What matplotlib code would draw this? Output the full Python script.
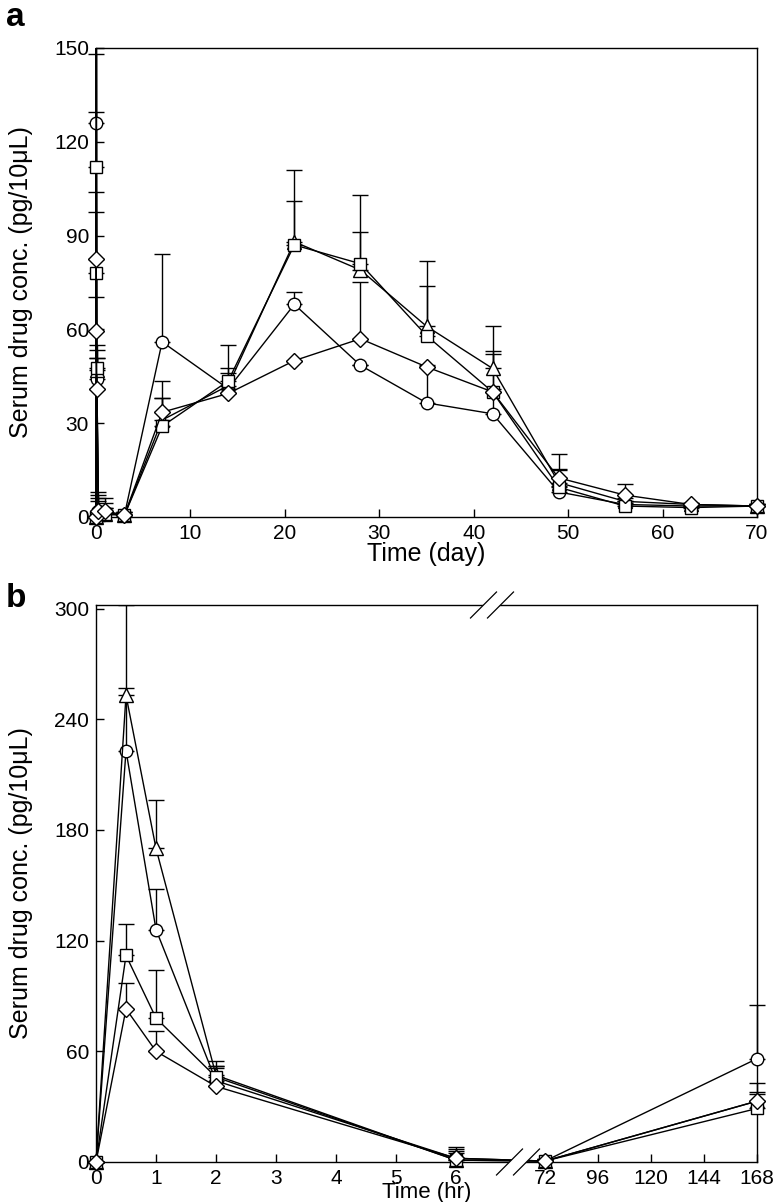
"""
Serum drug concentration time courses: (a) by day over 70 days,
(b) by hour over the first week, with a broken x axis.
Writes ./out.png
"""

import matplotlib

matplotlib.use("Agg")
import matplotlib.pyplot as plt
import numpy as np
from matplotlib.lines import Line2D
from matplotlib.patches import Polygon, Rectangle

plt.rcParams["font.family"] = ["Liberation Sans", "DejaVu Sans"]

# ---- panel a: time in days (first points are 0, 0.5, 1, 2, 6 h) ----
DAYS = [0, 0.5 / 24, 1 / 24, 2 / 24, 6 / 24, 1, 3, 7, 14, 21, 28, 35, 42, 49, 56, 63, 70]
A_CIRCLE = [0, 223, 126, 44, 2, 1.5, 0.5, 56, 41, 68, 48.5, 36.5, 33, 8, 4, 3.5, 3.5]
A_CIRCLE_ERR = [0, 34, 22, 7, 5, 3, 0.5, 28, 6.5, 4, 0, 12, 8, 2, 1, 0.5, 0.5]
A_TRIANGLE = [0, 253, 170, 47, 1, 1, 0.5, 31, 42, 88, 79, 61, 47.5, 11, 5, 4, 3.5]
A_TRIANGLE_ERR = [0, 49, 26, 8, 5, 2, 1, 12.5, 13, 23, 12, 21, 13.5, 4, 1, 0.5, 0.5]
A_SQUARE = [0, 112, 78, 47.5, 1, 1, 0.5, 29, 43.5, 87, 81, 58, 40, 9.5, 3.5, 3, 3.5]
A_SQUARE_ERR = [0, 17.5, 26, 6, 4, 2, 1, 9, 2.5, 14, 22, 16, 13, 6, 1, 0.5, 0.5]
A_DIAMOND = [0, 82.5, 59.5, 41, 2, 2, 0.5, 33.5, 39.5, 50, 57, 48, 40, 12.5, 7, 4, 3.5]
A_DIAMOND_ERR = [0, 15, 11, 10, 6, 4, 1, 4.5, 0, 0, 18, 0, 12, 7.5, 3.5, 0.5, 0.5]

# ---- panel b: time in hours ----
HOURS = [0, 0.5, 1, 2, 6, 72, 168]
B_CIRCLE = [0, 223, 126, 44, 2, 0.5, 56]
B_CIRCLE_ERR = [0, 34, 22, 7, 5, 0.5, 29]
B_TRIANGLE = [0, 253, 170, 47, 1, 0.5, 33]
B_TRIANGLE_ERR = [0, 49, 26, 8, 5, 1, 10]
B_SQUARE = [0, 112, 78, 46, 1, 0.5, 29]
B_SQUARE_ERR = [0, 17, 26, 6, 4, 1, 8]
B_DIAMOND = [0, 83, 60, 41, 2, 0.5, 33]
B_DIAMOND_ERR = [0, 14, 11, 11, 6, 1, 5]

A_YTICKS = [0, 30, 60, 90, 120, 150]
A_XTICKS = [0, 10, 20, 30, 40, 50, 60, 70]
B_YTICKS = [0, 60, 120, 180, 240, 300]
B_XTICKS = [0, 1, 2, 3, 4, 5, 6, 72, 96, 120, 144, 168]

YLABEL = "Serum drug conc. (pg/10\u03bcL)"

# broken-axis scale for panel b: 0-6 h linear, gap, then 72-168 h compressed
U72 = 7.483
K_LATE = (11.017 - U72) / 96.0


def hr_forward(h):
    h = np.asarray(h, dtype=float)
    mid = 6 + (h - 6) * (U72 - 6) / 66.0
    late = U72 + (h - 72) * K_LATE
    return np.where(h <= 6, h, np.where(h < 72, mid, late))


def hr_inverse(u):
    u = np.asarray(u, dtype=float)
    mid = 6 + (u - 6) * 66.0 / (U72 - 6)
    late = 72 + (u - U72) / K_LATE
    return np.where(u <= 6, u, np.where(u < U72, mid, late))


def draw_series(ax, x, y, err, marker, ms):
    clip = Rectangle((-0.05, -0.05), 1.1, 1.05, transform=ax.transAxes)
    eb = ax.errorbar(
        x, y, yerr=[np.zeros(len(err)), err], fmt="none", ecolor="black",
        elinewidth=1.0, capsize=6, capthick=1.0, zorder=3,
    )
    for art in list(eb[1]) + list(eb[2]):
        art.set_clip_path(clip)
    (line,) = ax.plot(
        x, y, color="black", lw=1.0, marker=marker, ms=ms,
        mfc="white", mec="black", mew=1.0, zorder=4,
    )
    line.set_clip_path(clip)


def style_axes(ax):
    for sp in ax.spines.values():
        sp.set_linewidth(1.0)
    ax.tick_params(direction="in", length=6, width=1.0, labelsize=15, pad=5,
                   top=False, right=False)


def break_mark(fig, cx, cy):
    # two slashes with a white gap, cx/cy in pixels from top-left
    W, H = 780.0, 1202.0
    half, off = 13.0, 8.5

    def f(px, py):
        return px / W, 1 - py / H

    gap = [f(cx - off - half, cy + half), f(cx - off + half, cy - half),
           f(cx + off + half, cy - half), f(cx + off - half, cy + half)]
    fig.add_artist(Polygon(gap, closed=True, transform=fig.transFigure,
                           facecolor="white", edgecolor="none", zorder=5))
    for d in (-off, off):
        x0, y0 = f(cx + d - half, cy + half)
        x1, y1 = f(cx + d + half, cy - half)
        fig.add_artist(Line2D([x0, x1], [y0, y1], transform=fig.transFigure,
                              color="black", lw=0.9, zorder=6))


def main():
    fig = plt.figure(figsize=(7.8, 12.02), dpi=100)
    ax_a = fig.add_axes([0.1231, 0.5699, 0.8474, 0.3902])
    ax_b = fig.add_axes([0.1231, 0.0333, 0.8474, 0.4634])

    # panel a
    draw_series(ax_a, DAYS, A_CIRCLE, A_CIRCLE_ERR, "o", 9)
    draw_series(ax_a, DAYS, A_TRIANGLE, A_TRIANGLE_ERR, "^", 10)
    draw_series(ax_a, DAYS, A_SQUARE, A_SQUARE_ERR, "s", 8)
    draw_series(ax_a, DAYS, A_DIAMOND, A_DIAMOND_ERR, "D", 8)
    ax_a.set_xlim(0, 70)
    ax_a.set_ylim(0, 150)
    ax_a.set_xticks(A_XTICKS)
    ax_a.set_yticks(A_YTICKS)
    style_axes(ax_a)
    ax_a.set_xlabel("Time (day)", fontsize=18)
    ax_a.xaxis.set_label_coords(0.5, -0.053)
    ax_a.set_ylabel(YLABEL, fontsize=18)
    ax_a.yaxis.set_label_coords(-0.095, 0.5)

    # panel b
    ax_b.set_xscale("function", functions=(hr_forward, hr_inverse))
    draw_series(ax_b, HOURS, B_CIRCLE, B_CIRCLE_ERR, "o", 9)
    draw_series(ax_b, HOURS, B_TRIANGLE, B_TRIANGLE_ERR, "^", 10)
    draw_series(ax_b, HOURS, B_SQUARE, B_SQUARE_ERR, "s", 8)
    draw_series(ax_b, HOURS, B_DIAMOND, B_DIAMOND_ERR, "D", 8)
    ax_b.set_xlim(0, 168)
    ax_b.set_ylim(0, 302)
    ax_b.set_xticks(B_XTICKS)
    ax_b.set_xticklabels([str(t) for t in B_XTICKS])
    ax_b.minorticks_off()
    ax_b.set_yticks(B_YTICKS)
    style_axes(ax_b)
    ax_b.set_xlabel("Time (hr)", fontsize=16)
    ax_b.xaxis.set_label_coords(0.5, -0.036)
    ax_b.set_ylabel(YLABEL, fontsize=18)
    ax_b.yaxis.set_label_coords(-0.095, 0.5)

    break_mark(fig, 492, 605)
    break_mark(fig, 518, 1162)

    fig.text(0.008, 0.998, "a", fontsize=24, fontweight="bold", va="top")
    fig.text(0.008, 0.515, "b", fontsize=24, fontweight="bold", va="top")

    fig.savefig("out.png", dpi=100)
    plt.close(fig)
    return 0


if __name__ == "__main__":
    raise SystemExit(main())
